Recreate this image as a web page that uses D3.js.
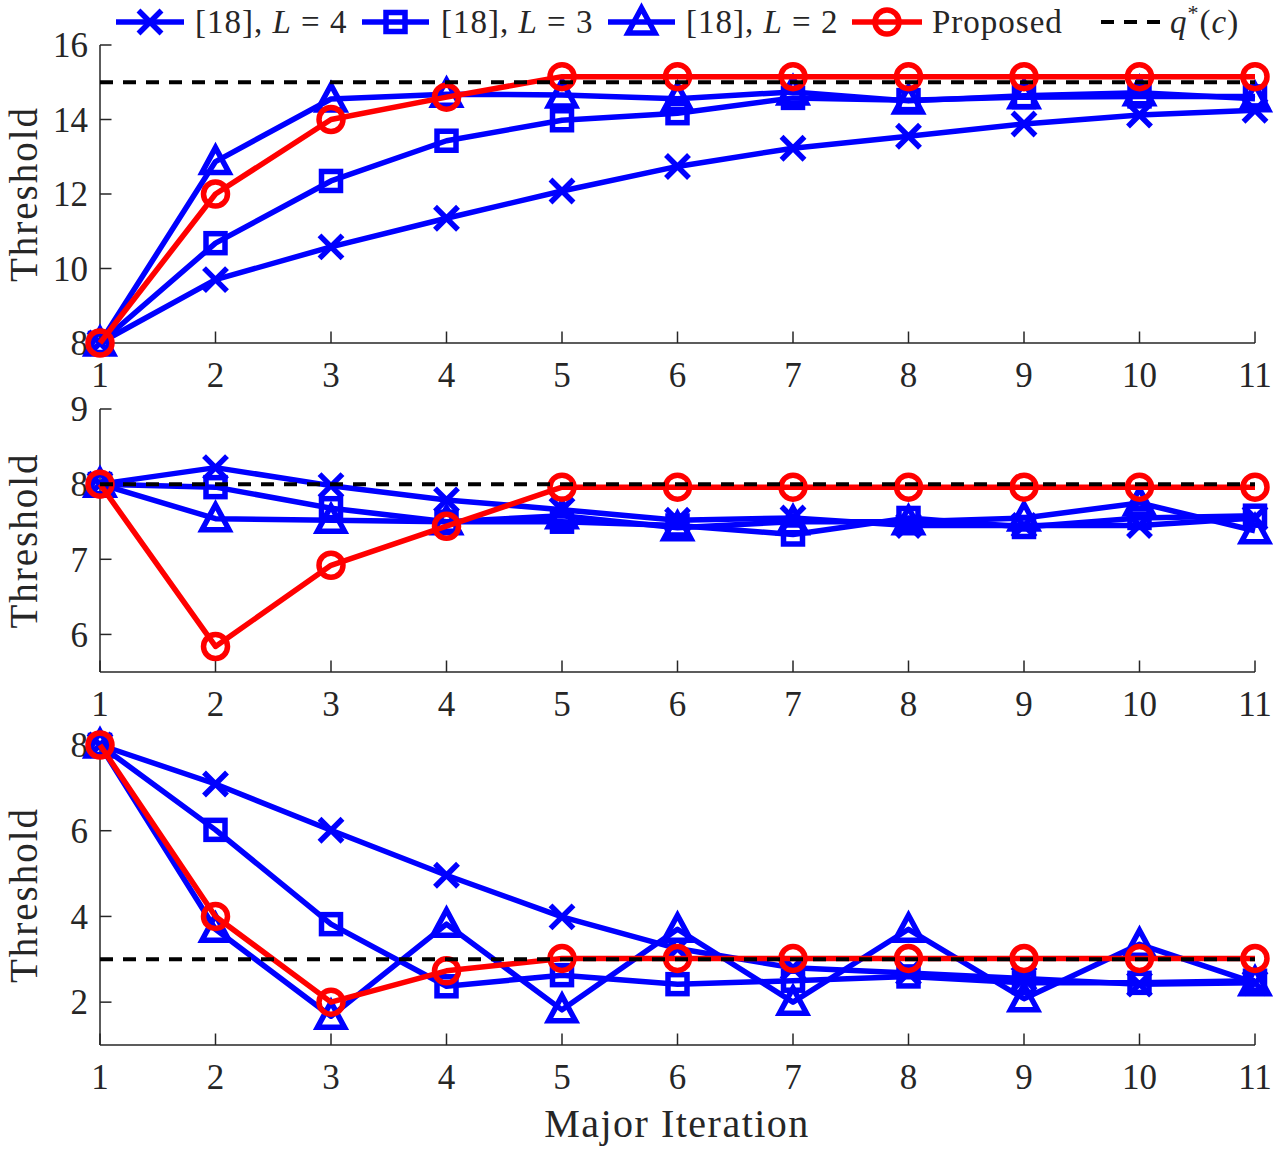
<!DOCTYPE html>
<html>
  <head>
    <meta charset="utf-8" />
    <title>Threshold vs Major Iteration</title>
    <script src="https://d3js.org/d3.v7.min.js"></script>
    <style>
      body {
        margin: 0;
        background: #fff;
      }
      svg text {
        font-family: 'Liberation Serif', 'DejaVu Serif', serif;
      }
      .axis-line {
        stroke: #262626;
        stroke-width: 1.5;
        fill: none;
      }
      .tick-label {
        font-size: 35px;
        fill: #262626;
      }
      .series {
        fill: none;
        stroke-width: 5.5;
        stroke-linejoin: round;
      }
    </style>
  </head>
  <body>
    <div id="chart"></div>
    <script>
      // 反復回数（横軸）
      const iterations = [1, 2, 3, 4, 5, 6, 7, 8, 9, 10, 11];

      // 上段
      const topL4 = [8, 9.7, 10.58, 11.35, 12.08, 12.74, 13.23, 13.55, 13.88, 14.12, 14.25];
      const topL3 = [8, 10.68, 12.35, 13.43, 13.98, 14.17, 14.58, 14.52, 14.6, 14.62, 14.62];
      const topL2 = [8, 12.87, 14.55, 14.68, 14.66, 14.56, 14.74, 14.5, 14.64, 14.72, 14.56];
      const topProposed = [8, 12.0, 14.0, 14.6, 15.15, 15.15, 15.15, 15.15, 15.15, 15.15, 15.15];
      const topQ = 15;

      // 中段
      const midL4 = [8, 8.22, 7.98, 7.79, 7.66, 7.52, 7.55, 7.45, 7.45, 7.45, 7.55];
      const midL3 = [8, 7.96, 7.68, 7.5, 7.5, 7.45, 7.33, 7.55, 7.43, 7.55, 7.58];
      const midL2 = [8, 7.54, 7.52, 7.5, 7.58, 7.42, 7.5, 7.5, 7.55, 7.75, 7.38];
      const midProposed = [8, 5.84, 6.92, 7.44, 7.96, 7.96, 7.96, 7.96, 7.96, 7.96, 7.96];
      const midQ = 8;

      // 下段
      const botL4 = [8, 7.09, 6.01, 4.96, 3.99, 3.25, 2.8, 2.68, 2.55, 2.42, 2.45];
      const botL3 = [8, 6.02, 3.82, 2.37, 2.63, 2.42, 2.5, 2.6, 2.45, 2.45, 2.5];
      const botL2 = [8, 3.7, 1.67, 3.82, 1.82, 3.7, 2.0, 3.7, 2.08, 3.35, 2.45];
      const botProposed = [8, 4.0, 2.0, 2.73, 3.02, 3.02, 3.02, 3.02, 3.02, 3.02, 3.02];
      const botQ = 3;

      // 軸の範囲と目盛り
      const yDomains = [[8, 16], [5.5, 9], [1, 8]];
      const yTicks = [[8, 10, 12, 14, 16], [6, 7, 8, 9], [2, 4, 6, 8]];
      const seriesNames = ['L4', 'L3', 'L2', 'Proposed'];
      const legendL = ['4', '3', '2'];

      const width = 1280;
      const height = 1150;
      const axisColor = '#262626';
      const blue = '#0000ff';
      const red = '#ff0000';
      const serif = "'Liberation Serif', 'DejaVu Serif', serif";

      // パネルの位置
      const panels = [
        { top: 45, bottom: 343, series: [topL4, topL3, topL2, topProposed], q: topQ },
        { top: 409, bottom: 672, series: [midL4, midL3, midL2, midProposed], q: midQ },
        { top: 745, bottom: 1045, series: [botL4, botL3, botL2, botProposed], q: botQ },
      ];

      const svg = d3
        .select('#chart')
        .append('svg')
        .attr('width', width)
        .attr('height', height)
        .attr('font-family', serif);

      const x = d3.scaleLinear().domain([1, 11]).range([100, 1255]);

      // マーカー描画
      function drawMarker(g, type, cx, cy, color) {
        const m = g.append('g').attr('transform', `translate(${cx},${cy})`);
        const common = (sel) =>
          sel
            .attr('fill', 'none')
            .attr('stroke', color)
            .attr('stroke-width', 5.5)
            .attr('stroke-linejoin', 'miter');
        if (type === 'L4') {
          common(m.append('path').attr('d', 'M-11.5,-11.5L11.5,11.5M-11.5,11.5L11.5,-11.5'));
        } else if (type === 'L3') {
          common(m.append('rect').attr('x', -9.5).attr('y', -9.5).attr('width', 19).attr('height', 19));
        } else if (type === 'L2') {
          common(m.append('path').attr('d', 'M0,-14L13.5,11L-13.5,11Z'));
        } else {
          common(m.append('circle').attr('r', 12));
        }
      }

      const colorOf = (name) => (name === 'Proposed' ? red : blue);

      panels.forEach((p, pi) => {
        const y = d3.scaleLinear().domain(yDomains[pi]).range([p.bottom, p.top]);
        const g = svg.append('g');

        // 軸線
        g.append('line').attr('class', 'axis-line')
          .attr('x1', x(1)).attr('x2', x(1)).attr('y1', p.top).attr('y2', p.bottom);
        g.append('line').attr('class', 'axis-line')
          .attr('x1', x(1)).attr('x2', x(11)).attr('y1', p.bottom).attr('y2', p.bottom);

        // x目盛り（内向き）
        iterations.forEach((it) => {
          g.append('line').attr('class', 'axis-line')
            .attr('x1', x(it)).attr('x2', x(it))
            .attr('y1', p.bottom).attr('y2', p.bottom - 11.5);
          g.append('text').attr('class', 'tick-label')
            .attr('x', x(it)).attr('y', p.bottom + 43.5)
            .attr('text-anchor', 'middle')
            .text(it);
        });

        // y目盛り
        yTicks[pi].forEach((t) => {
          g.append('line').attr('class', 'axis-line')
            .attr('x1', x(1)).attr('x2', x(1) + 11.5)
            .attr('y1', y(t)).attr('y2', y(t));
          g.append('text').attr('class', 'tick-label')
            .attr('x', 88).attr('y', y(t)).attr('dy', '0.35em')
            .attr('text-anchor', 'end')
            .text(t);
        });

        // y軸ラベル
        g.append('text')
          .attr('transform', `translate(37,${(p.top + p.bottom) / 2}) rotate(-90)`)
          .attr('text-anchor', 'middle')
          .attr('font-size', 39)
          .attr('letter-spacing', 2)
          .attr('fill', axisColor)
          .text('Threshold');

        // 系列
        const line = d3.line().x((d, i) => x(iterations[i])).y((d) => y(d));
        p.series.forEach((vals, si) => {
          const name = seriesNames[si];
          g.append('path').attr('class', 'series')
            .attr('stroke', colorOf(name))
            .attr('d', line(vals));
          vals.forEach((v, i) => drawMarker(g, name, x(iterations[i]), y(v), colorOf(name)));
        });

        // q*(c) 破線
        g.append('line')
          .attr('x1', x(1)).attr('x2', x(11))
          .attr('y1', y(p.q)).attr('y2', y(p.q))
          .attr('stroke', '#000').attr('stroke-width', 4)
          .attr('stroke-dasharray', '13,10');
      });

      // x軸タイトル
      svg.append('text')
        .attr('x', 677).attr('y', 1137)
        .attr('text-anchor', 'middle')
        .attr('font-size', 40)
        .attr('letter-spacing', 1.5)
        .attr('fill', axisColor)
        .text('Major Iteration');

      // 凡例
      const legend = svg.append('g');
      const legendItems = [
        { name: 'L4', x1: 116, x2: 184, tx: 195 },
        { name: 'L3', x1: 362, x2: 429, tx: 441 },
        { name: 'L2', x1: 608, x2: 675, tx: 686 },
        { name: 'Proposed', x1: 852, x2: 922, tx: 932 },
      ];
      const ly = 22;
      legendItems.forEach((it, i) => {
        const c = colorOf(it.name);
        legend.append('line')
          .attr('x1', it.x1).attr('x2', it.x2).attr('y1', ly).attr('y2', ly)
          .attr('stroke', c).attr('stroke-width', 5.5);
        drawMarker(legend, it.name, (it.x1 + it.x2) / 2, ly, c);
        const t = legend.append('text')
          .attr('x', it.tx).attr('y', 33)
          .attr('font-size', 33)
          .attr('letter-spacing', 1)
          .attr('fill', axisColor);
        if (it.name === 'Proposed') {
          t.text('Proposed');
        } else {
          t.append('tspan').text('[18], ');
          t.append('tspan').attr('font-style', 'italic').text('L');
          t.append('tspan').text(' = ' + legendL[i]);
        }
      });
      legend.append('line')
        .attr('x1', 1101).attr('x2', 1164).attr('y1', ly).attr('y2', ly)
        .attr('stroke', '#000').attr('stroke-width', 4)
        .attr('stroke-dasharray', '13,10');
      const qt = legend.append('text')
        .attr('x', 1170).attr('y', 33)
        .attr('font-size', 33)
        .attr('letter-spacing', 1)
        .attr('fill', axisColor);
      qt.append('tspan').attr('font-style', 'italic').text('q');
      qt.append('tspan').attr('font-size', 22).attr('dy', -13).text('*');
      qt.append('tspan').attr('dy', 13).text('(');
      qt.append('tspan').attr('font-style', 'italic').text('c');
      qt.append('tspan').text(')');
    </script>
  </body>
</html>
